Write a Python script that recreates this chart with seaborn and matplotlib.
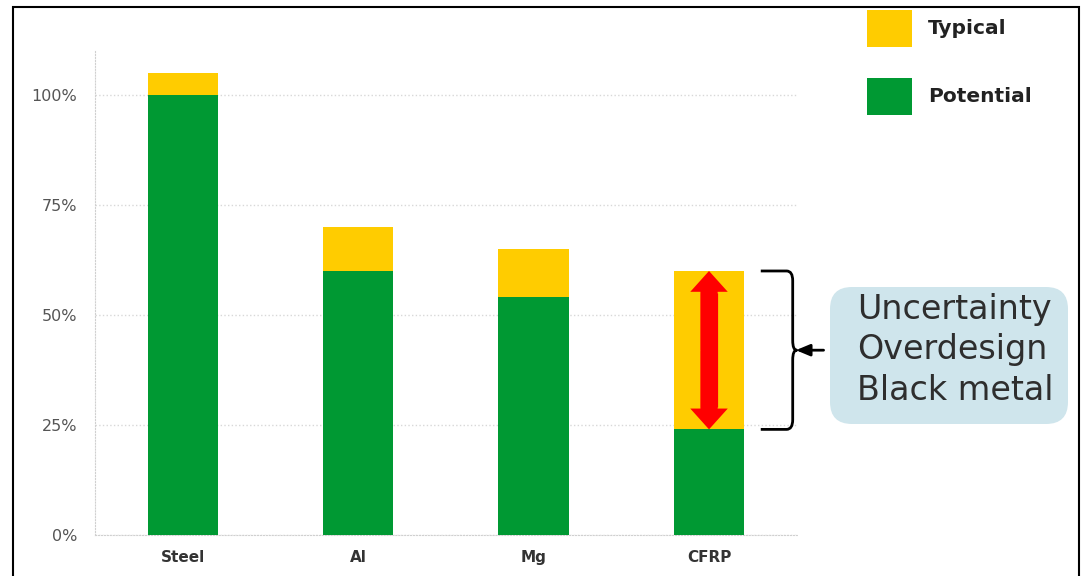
import numpy as np
import pandas as pd
import matplotlib.pyplot as plt
import seaborn as sns
from matplotlib.patches import FancyBboxPatch, Rectangle, FancyArrowPatch
from matplotlib.path import Path
from matplotlib.patches import PathPatch

# data (percent of steel weight)
materials = ["Steel", "Al", "Mg", "CFRP"]
typical = [105, 70, 65, 60]
potential = [100, 60, 54, 24]
yticks = [0, 25, 50, 75, 100]
legend_labels = ["Typical", "Potential"]
note_lines = ["Uncertainty", "Overdesign", "Black metal"]

yellow = "#FFCC00"
green = "#009933"

sns.set_style("white")
plt.rcParams["font.family"] = ["DejaVu Sans"]

df = pd.DataFrame({"material": materials, "typical": typical, "potential": potential})

fig = plt.figure(figsize=(10.84, 5.76), dpi=100)
ax = fig.add_axes([0.0876, 0.0712, 0.6474, 0.8403])

# stacked look: full typical bar behind, potential bar in front
sns.barplot(data=df, x="material", y="typical", color=yellow, width=0.4,
            saturation=1, linewidth=0, edgecolor="none", ax=ax, zorder=2)
sns.barplot(data=df, x="material", y="potential", color=green, width=0.4,
            saturation=1, linewidth=0, edgecolor="none", ax=ax, zorder=3)

ax.set_xlim(-0.5, 3.5)
ax.set_ylim(0, 110)
ax.set_yticks(yticks)
ax.set_yticklabels([f"{v}%" for v in yticks])
ax.set_xlabel("")
ax.set_ylabel("")
ax.grid(axis="y", color="#d8d8d8", linestyle=":", linewidth=1, zorder=0)
for s in ["top", "right"]:
    ax.spines[s].set_visible(False)
for s in ["left", "bottom"]:
    ax.spines[s].set_color("#d0d0d0")
    ax.spines[s].set_linestyle(":")
ax.tick_params(axis="y", length=0, pad=13, labelsize=11.5, labelcolor="#555555")
ax.tick_params(axis="x", length=0, pad=11, labelsize=11, labelcolor="#333333")
for t in ax.get_xticklabels():
    t.set_fontweight("bold")

# red double arrow across the CFRP gap: shaft + two heads
ci = materials.index("CFRP")
top, bot = typical[ci], potential[ci]
mid = (top + bot) / 2
ax.plot([ci, ci], [bot + 5, top - 5], color="red", lw=12.4,
        solid_capstyle="butt", zorder=5)
for start, end in ((mid, top), (mid, bot)):
    ax.add_patch(FancyArrowPatch((ci, start), (ci, end),
                                 arrowstyle="simple,head_length=0.75,head_width=1.35,tail_width=0.62",
                                 mutation_scale=20, color="red", lw=0,
                                 shrinkA=0, shrinkB=0, zorder=6))

# curly brace to the right of the CFRP bar
x0, x1, xc, xt = ci + 0.295, ci + 0.477, ci + 0.50, ci + 0.653
r = 2.2
verts = [(x0, top), (x1 - 0.035, top), (x1, top), (x1, top - r),
         (x1, mid + r), (x1, mid), (xc, mid),
         (x1, mid), (x1, mid - r),
         (x1, bot + r), (x1, bot), (x1 - 0.035, bot), (x0, bot)]
codes = [Path.MOVETO, Path.LINETO, Path.CURVE3, Path.CURVE3,
         Path.LINETO, Path.CURVE3, Path.CURVE3,
         Path.CURVE3, Path.CURVE3,
         Path.LINETO, Path.CURVE3, Path.CURVE3, Path.LINETO]
ax.add_patch(PathPatch(Path(verts, codes), fill=False, lw=2,
                       edgecolor="black", clip_on=False, joinstyle="round"))
ax.annotate("", xy=(xc - 0.005, mid), xytext=(xt, mid),
            arrowprops=dict(arrowstyle="-|>,head_length=0.6,head_width=0.25",
                            color="black", lw=2,
                            mutation_scale=14, shrinkA=0, shrinkB=0),
            annotation_clip=False)

# note box
box = FancyBboxPatch((8.30, 1.52), 2.38, 1.37,
                     boxstyle="round,pad=0,rounding_size=0.22",
                     transform=fig.dpi_scale_trans, facecolor="#cfe5ec",
                     edgecolor="none")
fig.patches.append(box)
fig.text(8.575, 2.26, "\n".join(note_lines), transform=fig.dpi_scale_trans,
         ha="left", va="center", fontsize=24, color="#2e2e2e",
         linespacing=1.3)

# legend at the top right, drawn by hand (inches from bottom-left)
for i, (lab, col) in enumerate(zip(legend_labels, [yellow, green])):
    y_top = 5.76 - 0.10 - i * 0.68
    fig.patches.append(Rectangle((8.67, y_top - 0.37), 0.45, 0.37,
                                 transform=fig.dpi_scale_trans,
                                 facecolor=col, edgecolor="none"))
    fig.text(9.28, y_top - 0.185, lab, transform=fig.dpi_scale_trans,
             ha="left", va="center", fontsize=14.5, fontweight="bold",
             color="#222222")

# outer frame
fig.patches.append(Rectangle((0.13, -0.2), 10.66, 5.89, transform=fig.dpi_scale_trans,
                             fill=False, edgecolor="black", lw=1.5))

fig.savefig("out.png", dpi=100)
